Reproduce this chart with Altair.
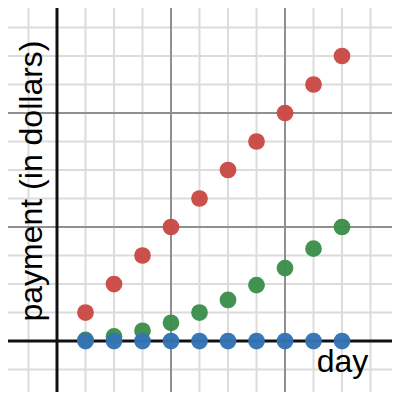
import altair as alt
import pandas as pd

days = [1, 2, 3, 4, 5, 6, 7, 8, 9, 10]
red_vals = [1, 2, 3, 4, 5, 6, 7, 8, 9, 10]
green_vals = [0.04, 0.16, 0.36, 0.64, 1.0, 1.44, 1.96, 2.56, 3.24, 4.0]
blue_vals = [0, 0, 0, 0, 0, 0, 0, 0, 0, 0]

minor_x = [-1, 1, 2, 3, 5, 6, 7, 9, 10, 11, 12]
major_x = [4, 8]
minor_y = [-2, -1, 1, 2, 3, 5, 6, 7, 9, 10, 11]
major_y = [4, 8]

x_domain = [-1.719, 11.754]
y_domain = [-1.789, 11.684]

rows = []
for name, vals in [("red", red_vals), ("green", green_vals), ("blue", blue_vals)]:
    for d, v in zip(days, vals):
        rows.append({"day": d, "pay": v, "series": name})
df = pd.DataFrame(rows)

xs = alt.Scale(domain=x_domain, nice=False, zero=False)
ys = alt.Scale(domain=y_domain, nice=False, zero=False)

def vrules(vals, color, width):
    return alt.Chart(pd.DataFrame({"v": vals})).mark_rule(color=color, strokeWidth=width, clip=True).encode(
        x=alt.X("v:Q", scale=xs, axis=None))

def hrules(vals, color, width):
    return alt.Chart(pd.DataFrame({"v": vals})).mark_rule(color=color, strokeWidth=width, clip=True).encode(
        y=alt.Y("v:Q", scale=ys, axis=None))

layers = [
    vrules(minor_x, "#dcdcdc", 2),
    hrules(minor_y, "#dcdcdc", 2),
    vrules(major_x, "#8f8f8f", 2),
    hrules(major_y, "#8f8f8f", 2),
    vrules([0], "#111111", 3),
    hrules([0], "#111111", 3),
]

colors = {"red": "#c94a46", "green": "#3c8f4b", "blue": "#3373b5"}
for name in ["red", "green", "blue"]:
    layers.append(
        alt.Chart(df[df.series == name]).mark_circle(size=280, color=colors[name], opacity=0.97).encode(
            x=alt.X("day:Q", scale=xs, axis=None),
            y=alt.Y("pay:Q", scale=ys, axis=None),
        )
    )

ylab = alt.Chart(pd.DataFrame({"t": ["payment (in dollars)"]})).mark_text(
    font="Liberation Sans", fontSize=32, angle=270, align="center", baseline="alphabetic", color="#000000"
).encode(x=alt.value(34), y=alt.value(173), text="t:N")

xlab = alt.Chart(pd.DataFrame({"t": ["day"]})).mark_text(
    font="Liberation Sans", fontSize=32, align="center", baseline="alphabetic", color="#000000"
).encode(x=alt.value(334.5), y=alt.value(364), text="t:N")

layers += [ylab, xlab]

chart = alt.layer(*layers).properties(
    width=384, height=384, autosize=alt.AutoSizeParams(type="none"), padding=0,
    background="#ffffff"
).configure_view(stroke=None)

chart.save("out.html", embed_options={"renderer": "svg", "actions": False})
